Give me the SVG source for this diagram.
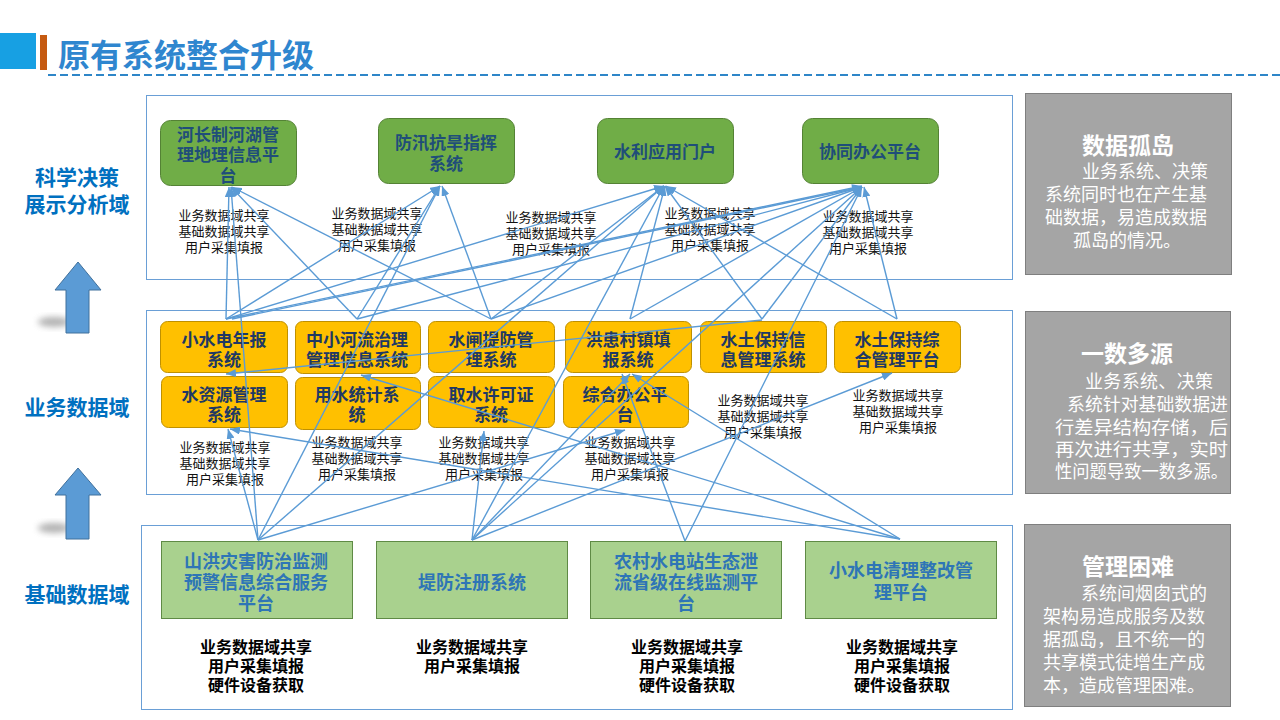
<svg xmlns="http://www.w3.org/2000/svg" width="1280" height="720" viewBox="0 0 1280 720">
<defs>
<marker id="ah" viewBox="0 0 10 8" refX="10" refY="4" markerWidth="10" markerHeight="8" markerUnits="userSpaceOnUse" orient="auto">
<path d="M0,0 L10,4 L0,8 z" fill="#5b9bd5"/>
</marker>
<filter id="blur" x="-50%" y="-50%" width="200%" height="200%"><feGaussianBlur stdDeviation="3"/></filter>
<style>
text{font-family:"Liberation Sans","Noto Sans CJK SC",sans-serif;text-anchor:middle}
.region{fill:#ffffff;stroke:#6a9fd6;stroke-width:1}
.top rect{fill:#70ad47;stroke:#548235;stroke-width:1}
.top text{font-size:17px;font-weight:bold;fill:#1f4e79}
.mid rect{fill:#ffc000;stroke:#bf9000;stroke-width:1}
.mid text{font-size:17px;font-weight:bold;fill:#203864}
.bot rect{fill:#a9d18e;stroke:#5f8a45;stroke-width:1}
.bot text{font-size:18px;font-weight:bold;fill:#2e75b6}
.lbl{font-size:13px;fill:#111111}
.blbl{font-size:16px;font-weight:bold;fill:#000000}
.side{font-size:21px;font-weight:bold;fill:#0070c0}
.panel rect{fill:#a5a5a5;stroke:#7f7f7f;stroke-width:1}
.panel .pt{font-size:23px;font-weight:bold;fill:#ffffff}
.panel .pb{font-size:18px;fill:#ffffff;text-anchor:start}
#connectors line{stroke:#5b9bd5;stroke-width:1.4;marker-end:url(#ah)}
.uparrow{fill:#5b9bd5;stroke:#41719c;stroke-width:1}
</style>
</defs>
<rect width="1280" height="720" fill="#ffffff"/>

<g id="title">
<rect x="0" y="33" width="36" height="36" fill="#17a0e3"/>
<rect x="40" y="35" width="7" height="35" fill="#c55a11"/>
<text x="58" y="67" style="font-size:32px;font-weight:bold;fill:#2f86cf;text-anchor:start">原有系统整合升级</text>
<line x1="48" y1="75" x2="1280" y2="75" stroke="#2e86c8" stroke-width="2" stroke-dasharray="8,4"/>
</g>

<g id="regions">
<rect class="region" x="146.5" y="95.5" width="866" height="184"/>
<rect class="region" x="146.5" y="310.5" width="866" height="184"/>
<rect class="region" x="141.5" y="525.5" width="871" height="184"/>
</g>

<g id="side-labels">
<text class="side" x="77" y="185">科学决策<tspan x="77" y="212">展示分析域</tspan></text>
<text class="side" x="77" y="415">业务数据域</text>
<text class="side" x="77" y="602">基础数据域</text>
<ellipse cx="54" cy="322" rx="16" ry="5" fill="#7f7f7f" opacity="0.6" filter="url(#blur)"/>
<polygon class="uparrow" points="78,262 101,290 89,290 89,333 66,333 66,290 55,290"/>
<ellipse cx="54" cy="528" rx="16" ry="5" fill="#7f7f7f" opacity="0.6" filter="url(#blur)"/>
<polygon class="uparrow" points="78,468 101,495 89,495 89,539 66,539 66,495 55,495"/>
</g>

<g id="top-1" class="top"><rect x="160.5" y="120.5" width="136" height="65" rx="10"/>
<text x="228" y="141">河长制河湖管<tspan x="228" y="161">理地理信息平</tspan><tspan x="228" y="182">台</tspan></text></g>
<g id="top-2" class="top"><rect x="378.5" y="118.5" width="136" height="65" rx="10"/>
<text x="446" y="149">防汛抗旱指挥<tspan x="446" y="170">系统</tspan></text></g>
<g id="top-3" class="top"><rect x="597.5" y="118.5" width="136" height="65" rx="10"/>
<text x="665" y="158">水利应用门户</text></g>
<g id="top-4" class="top"><rect x="802.5" y="118.5" width="136" height="65" rx="10"/>
<text x="870" y="158">协同办公平台</text></g>

<g id="top-labels">
<text class="lbl" x="224" y="220">业务数据域共享<tspan x="224" y="236">基础数据域共享</tspan><tspan x="224" y="252">用户采集填报</tspan></text>
<text class="lbl" x="377" y="218">业务数据域共享<tspan x="377" y="234">基础数据域共享</tspan><tspan x="377" y="250">用户采集填报</tspan></text>
<text class="lbl" x="551" y="222">业务数据域共享<tspan x="551" y="238">基础数据域共享</tspan><tspan x="551" y="254">用户采集填报</tspan></text>
<text class="lbl" x="710" y="218">业务数据域共享<tspan x="710" y="234">基础数据域共享</tspan><tspan x="710" y="250">用户采集填报</tspan></text>
<text class="lbl" x="868" y="221">业务数据域共享<tspan x="868" y="237">基础数据域共享</tspan><tspan x="868" y="253">用户采集填报</tspan></text>
</g>

<g id="mid-1" class="mid"><rect x="160.5" y="321.5" width="127" height="51" rx="7"/><text x="224" y="346">小水电年报<tspan x="224" y="366">系统</tspan></text></g>
<g id="mid-2" class="mid"><rect x="295.5" y="321.5" width="125" height="52" rx="7"/><text x="357" y="346">中小河流治理<tspan x="357" y="366">管理信息系统</tspan></text></g>
<g id="mid-3" class="mid"><rect x="428.5" y="321.5" width="126" height="51" rx="7"/><text x="491" y="346">水闸提防管<tspan x="491" y="366">理系统</tspan></text></g>
<g id="mid-4" class="mid"><rect x="565.5" y="321.5" width="126" height="51" rx="7"/><text x="628" y="346">洪患村镇填<tspan x="628" y="366">报系统</tspan></text></g>
<g id="mid-5" class="mid"><rect x="700.5" y="321.5" width="126" height="51" rx="7"/><text x="763" y="346">水土保持信<tspan x="763" y="366">息管理系统</tspan></text></g>
<g id="mid-6" class="mid"><rect x="834.5" y="321.5" width="126" height="51" rx="7"/><text x="897" y="346">水土保持综<tspan x="897" y="366">合管理平台</tspan></text></g>
<g id="mid-7" class="mid"><rect x="161.5" y="376.5" width="126" height="51" rx="7"/><text x="224" y="401">水资源管理<tspan x="224" y="421">系统</tspan></text></g>
<g id="mid-8" class="mid"><rect x="295.5" y="377.5" width="125" height="52" rx="7"/><text x="357" y="401">用水统计系<tspan x="357" y="421">统</tspan></text></g>
<g id="mid-9" class="mid"><rect x="428.5" y="376.5" width="126" height="51" rx="7"/><text x="491" y="401">取水许可证<tspan x="491" y="421">系统</tspan></text></g>
<g id="mid-10" class="mid"><rect x="563.5" y="376.5" width="125" height="51" rx="7"/><text x="625" y="401">综合办公平<tspan x="625" y="421">台</tspan></text></g>

<g id="mid-labels">
<text class="lbl" x="225" y="452">业务数据域共享<tspan x="225" y="468">基础数据域共享</tspan><tspan x="225" y="484">用户采集填报</tspan></text>
<text class="lbl" x="357" y="447">业务数据域共享<tspan x="357" y="463">基础数据域共享</tspan><tspan x="357" y="479">用户采集填报</tspan></text>
<text class="lbl" x="484" y="447">业务数据域共享<tspan x="484" y="463">基础数据域共享</tspan><tspan x="484" y="479">用户采集填报</tspan></text>
<text class="lbl" x="630" y="447">业务数据域共享<tspan x="630" y="463">基础数据域共享</tspan><tspan x="630" y="479">用户采集填报</tspan></text>
<text class="lbl" x="763" y="405">业务数据域共享<tspan x="763" y="421">基础数据域共享</tspan><tspan x="763" y="437">用户采集填报</tspan></text>
<text class="lbl" x="898" y="400">业务数据域共享<tspan x="898" y="416">基础数据域共享</tspan><tspan x="898" y="432">用户采集填报</tspan></text>
</g>

<g id="bot-1" class="bot"><rect x="161.5" y="541.5" width="191" height="77"/><text x="256" y="568">山洪灾害防治监测<tspan x="256" y="589">预警信息综合服务</tspan><tspan x="256" y="610">平台</tspan></text></g>
<g id="bot-2" class="bot"><rect x="376.5" y="541.5" width="191" height="77"/><text x="472" y="589">堤防注册系统</text></g>
<g id="bot-3" class="bot"><rect x="590.5" y="541.5" width="191" height="77"/><text x="686" y="568">农村水电站生态泄<tspan x="686" y="589">流省级在线监测平</tspan><tspan x="686" y="610">台</tspan></text></g>
<g id="bot-4" class="bot"><rect x="805.5" y="541.5" width="191" height="77"/><text x="901" y="577">小水电清理整改管<tspan x="901" y="599">理平台</tspan></text></g>

<g id="bot-labels">
<text class="blbl" x="256" y="653">业务数据域共享<tspan x="256" y="672">用户采集填报</tspan><tspan x="256" y="691">硬件设备获取</tspan></text>
<text class="blbl" x="472" y="653">业务数据域共享<tspan x="472" y="672">用户采集填报</tspan></text>
<text class="blbl" x="687" y="653">业务数据域共享<tspan x="687" y="672">用户采集填报</tspan><tspan x="687" y="691">硬件设备获取</tspan></text>
<text class="blbl" x="902" y="653">业务数据域共享<tspan x="902" y="672">用户采集填报</tspan><tspan x="902" y="691">硬件设备获取</tspan></text>
</g>

<g id="connectors">
<line x1="226" y1="319" x2="229" y2="187"/>
<line x1="258" y1="540" x2="231" y2="187"/>
<line x1="357" y1="319" x2="231" y2="187"/>
<line x1="491" y1="319" x2="232" y2="187"/>
<line x1="226" y1="319" x2="440" y2="186"/>
<line x1="357" y1="319" x2="440" y2="186"/>
<line x1="491" y1="319" x2="442" y2="186"/>
<line x1="258" y1="540" x2="440" y2="186"/>
<line x1="226" y1="319" x2="664" y2="186"/>
<line x1="226" y1="319" x2="862" y2="186"/>
<line x1="232" y1="319" x2="862" y2="187"/>
<line x1="357" y1="319" x2="862" y2="187"/>
<line x1="491" y1="319" x2="664" y2="186"/>
<line x1="491" y1="319" x2="862" y2="187"/>
<line x1="630" y1="319" x2="665" y2="186"/>
<line x1="630" y1="319" x2="862" y2="187"/>
<line x1="762" y1="319" x2="665" y2="186"/>
<line x1="762" y1="319" x2="862" y2="187"/>
<line x1="897" y1="319" x2="666" y2="186"/>
<line x1="897" y1="319" x2="864" y2="187"/>
<line x1="472" y1="540" x2="664" y2="186"/>
<line x1="472" y1="540" x2="862" y2="187"/>
<line x1="685" y1="541" x2="862" y2="187"/>
<line x1="258" y1="540" x2="664" y2="186"/>
<line x1="258" y1="540" x2="228" y2="429"/>
<line x1="258" y1="540" x2="625" y2="430"/>
<line x1="472" y1="540" x2="484" y2="431"/>
<line x1="472" y1="540" x2="630" y2="374"/>
<line x1="472" y1="540" x2="892" y2="373"/>
<line x1="685" y1="541" x2="622" y2="374"/>
<line x1="900" y1="539" x2="361" y2="375"/>
<line x1="900" y1="539" x2="632" y2="374"/>
<line x1="900" y1="539" x2="230" y2="429"/>
<line x1="762" y1="320" x2="226" y2="374"/>
</g>

<g id="panel-1" class="panel"><rect x="1025.5" y="93.5" width="206" height="181"/>
<text class="pt" x="1128" y="154">数据孤岛</text>
<text class="pb" x="1082" y="178">业务系统、决策<tspan x="1045" y="201">系统同时也在产生基</tspan><tspan x="1045" y="224">础数据，易造成数据</tspan><tspan x="1073" y="247">孤岛的情况。</tspan></text></g>
<g id="panel-2" class="panel"><rect x="1025.5" y="311.5" width="205" height="182"/>
<text class="pt" x="1127" y="362">一数多源</text>
<text class="pb" x="1085" y="388"><tspan x="1085" y="388" textLength="128" lengthAdjust="spacing">业务系统、决策</tspan><tspan x="1067" y="411" textLength="161" lengthAdjust="spacingAndGlyphs">系统针对基础数据进</tspan><tspan x="1055" y="434" textLength="173" lengthAdjust="spacingAndGlyphs">行差异结构存储，后</tspan><tspan x="1055" y="456" textLength="173" lengthAdjust="spacingAndGlyphs">再次进行共享，实时</tspan><tspan x="1055" y="478" textLength="173" lengthAdjust="spacingAndGlyphs">性问题导致一数多源。</tspan></text></g>
<g id="panel-3" class="panel"><rect x="1024.5" y="524.5" width="206" height="182"/>
<text class="pt" x="1128" y="575">管理困难</text>
<text class="pb" x="1081" y="600">系统间烟囱式的<tspan x="1043" y="623">架构易造成服务及数</tspan><tspan x="1043" y="646">据孤岛，且不统一的</tspan><tspan x="1043" y="669">共享模式徒增生产成</tspan><tspan x="1043" y="692">本，造成管理困难。</tspan></text></g>
</svg>
